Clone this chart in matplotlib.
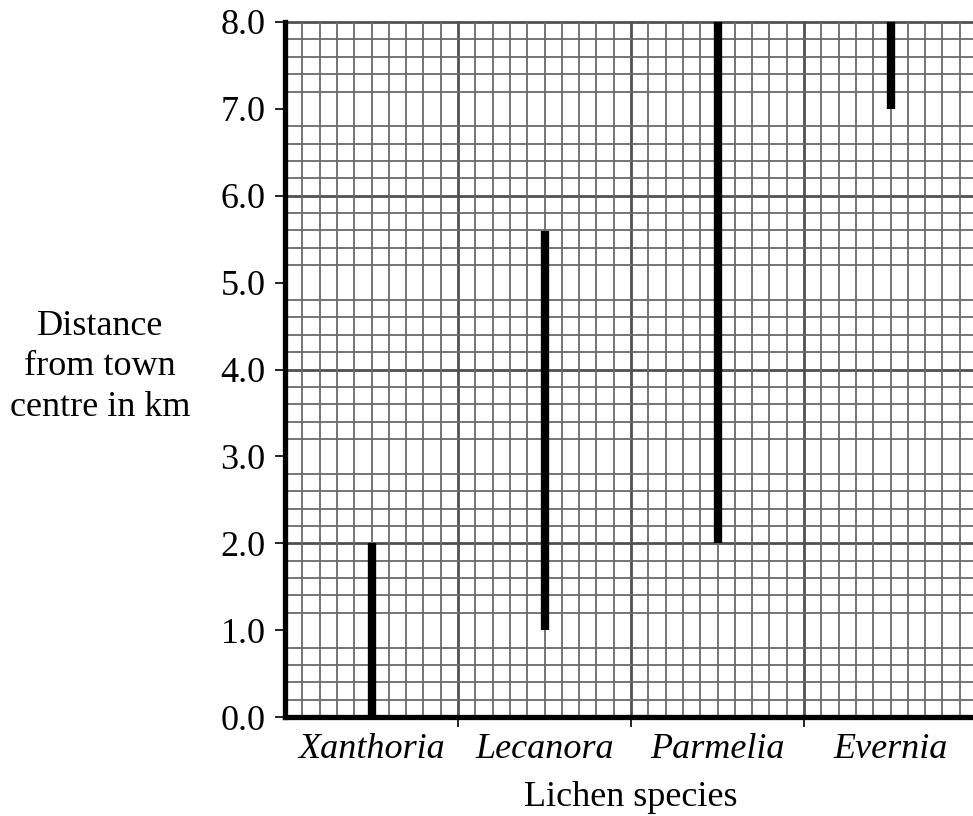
import numpy as np
import matplotlib
matplotlib.use("Agg")
import matplotlib.pyplot as plt
from matplotlib.ticker import MultipleLocator

plt.rcParams['font.family'] = ['Liberation Serif', 'DejaVu Serif']

species = ["Xanthoria", "Lecanora", "Parmelia", "Evernia"]
range_start = [0.0, 1.0, 2.0, 7.0]
range_end = [2.0, 5.6, 8.0, 8.0]
ytick_labels = ["0.0", "1.0", "2.0", "3.0", "4.0", "5.0", "6.0", "7.0", "8.0"]

fig = plt.figure(figsize=(9.73, 8.16), dpi=100)
ax = fig.add_axes([285 / 973, 1 - 717 / 816, 692 / 973, 695 / 816])

xpos = np.arange(len(species)) + 0.5
ax.set_xlim(0, len(species))
ax.set_ylim(0, 8)

# graph-paper grid
ax.xaxis.set_minor_locator(MultipleLocator(0.1))
ax.yaxis.set_minor_locator(MultipleLocator(0.2))
ax.grid(which="minor", color="#6a6a6a", lw=1.3)
for v in range(1, len(species) + 1):
    ax.axvline(v, color="#505050", lw=2.0, zorder=1.5, clip_on=False)
for h in [2, 4, 6, 8]:
    ax.axhline(h, color="#505050", lw=2.0, zorder=1.5, clip_on=False)
ax.tick_params(which="minor", length=0)

ax.vlines(xpos, range_start, range_end, color="black", lw=6, capstyle="butt", zorder=3)

ax.set_yticks(np.arange(0, 9, 1.0))
ax.set_yticklabels(ytick_labels, fontsize=26)
ax.set_xticks([1, 2, 3])
ax.set_xticklabels([])
ax.tick_params(axis="y", which="major", length=7, width=1.2, pad=7, direction="out")
ax.tick_params(axis="x", which="major", length=7, width=1.2, direction="out")
for x, name in zip(xpos, species):
    ax.annotate(name, (x, 0), xytext=(0, -29.5), textcoords="offset points",
                ha="center", va="baseline", fontsize=26, style="italic")

for s in ["top", "right"]:
    ax.spines[s].set_visible(False)
for s in ["left", "bottom"]:
    ax.spines[s].set_linewidth(3.8)
    ax.spines[s].set_color("black")
    ax.spines[s].set_zorder(4)

fig.text(631 / 973, 1 - 806 / 816, "Lichen species", ha="center", va="baseline", fontsize=26)
fig.text(100 / 973, 1 - 367 / 816, "Distance\nfrom town\ncentre in km", ha="center",
         va="center", multialignment="center", fontsize=26, linespacing=1.3)

fig.savefig("out.png", dpi=100)
